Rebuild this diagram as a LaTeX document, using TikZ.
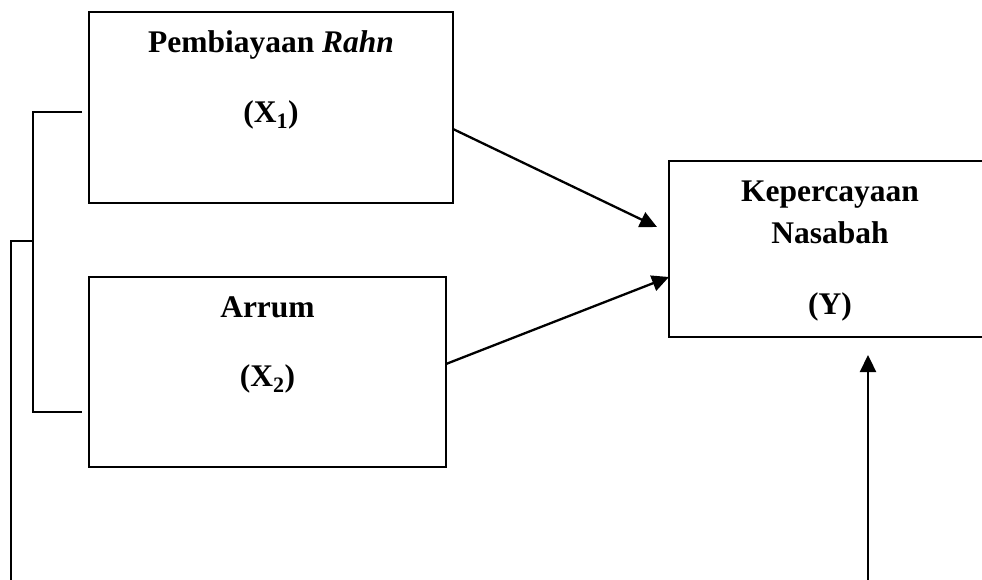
\documentclass[tikz,border=0pt]{standalone}
\usepackage{fontspec}
\setmainfont{Liberation Serif}
\usetikzlibrary{arrows.meta}
\begin{document}
\begin{tikzpicture}[x=1pt,y=-1pt,
  box/.style={draw, line width=2pt, inner sep=0pt, outer sep=0pt},
  lbl/.style={anchor=base, inner sep=0pt, font=\fontsize{31.5}{36}\selectfont\bfseries},
  conn/.style={line width=2pt},
  arr/.style={line width=2.3pt, -{Triangle[length=17pt,width=16pt]}}]
\useasboundingbox (0,0) rectangle (982,580);
\clip (0,0) rectangle (982,580);
% boxes
\node[box, minimum width=364pt, minimum height=191pt] (x1) at (271,107.5) {};
\node[box, minimum width=357pt, minimum height=190pt] (x2) at (267.5,372) {};
\node[box, minimum width=340pt, minimum height=176pt] (y) at (839,249) {};
% texts
\node[lbl] (t1) at (271,53) {Pembiayaan \textit{Rahn}};
\node[lbl] (t2) at (271,123) {(X\textsubscript{1})};
\node[lbl] (t3) at (267.5,317) {Arrum};
\node[lbl] (t4) at (267.5,386) {(X\textsubscript{2})};
\node[lbl] (t5) at (830,202) {Kepercayaan};
\node[lbl] (t6) at (830,243) {Nasabah};
\node[lbl] (t7) at (830,314) {(Y)};
% coordinates
\coordinate (b1) at (82,112);
\coordinate (b2) at (82,412);
\coordinate (bm) at (33,241);
\coordinate (ob) at (11,582);
\coordinate (a1s) at (453,129);
\coordinate (a1e) at (657,227);
\coordinate (a2s) at (446,364);
\coordinate (a2e) at (669,277);
\coordinate (vs) at (868,582);
\coordinate (ve) at (868,355);
% bracket
\draw[conn] (b1) -- (33,112) -- (33,412) -- (b2);
\draw[conn] (bm) -- (11,241) -- (ob);
% arrows
\draw[arr] (a1s) -- (a1e);
\draw[arr] (a2s) -- (a2e);
\draw[arr] (vs) -- (ve);
\end{tikzpicture}
\end{document}
